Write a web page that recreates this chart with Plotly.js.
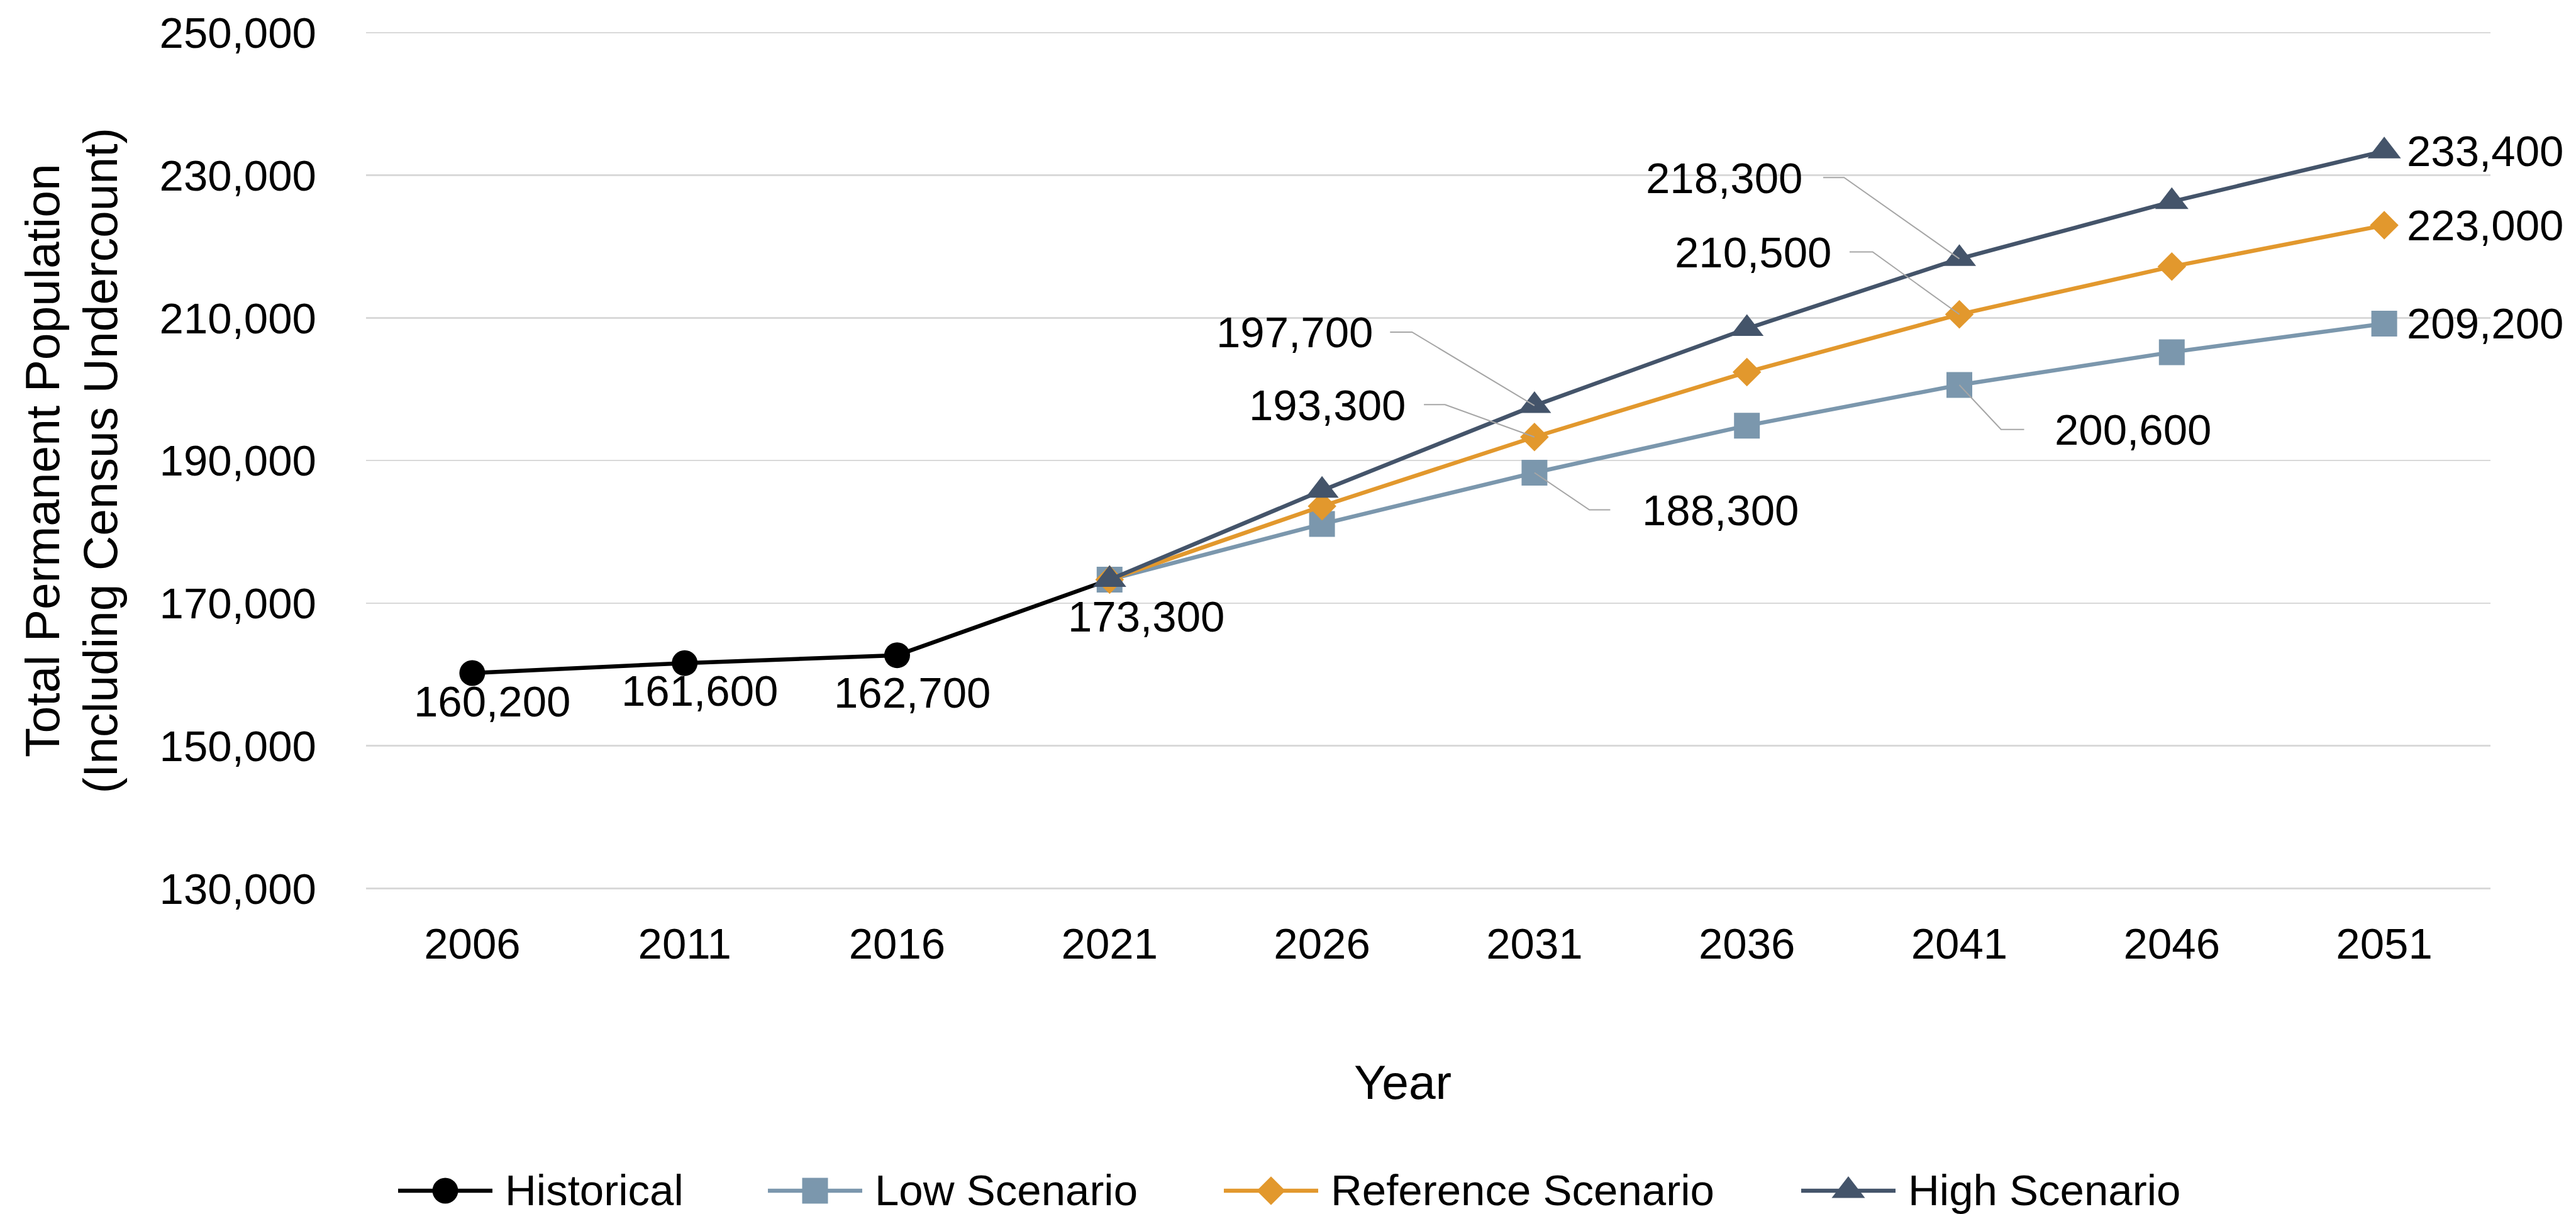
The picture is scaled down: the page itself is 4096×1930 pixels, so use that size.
<!DOCTYPE html>
<html>
<head>
<meta charset="utf-8">
<script src="https://cdn.plot.ly/plotly-3.0.1.min.js"></script>
<style>
  html, body { margin: 0; padding: 0; background: #ffffff; }
  #chart { width: 4096px; height: 1930px; }
</style>
</head>
<body>
<div id="chart"></div>
<script>
// ---- Data -------------------------------------------------------------
const years = [2006, 2011, 2016, 2021, 2026, 2031, 2036, 2041, 2046, 2051];
const historicalYears = [2006, 2011, 2016, 2021];
const historical = [160200, 161600, 162700, 173300];
const scenarioYears = [2021, 2026, 2031, 2036, 2041, 2046, 2051];
const lowScenario = [173300, 181100, 188300, 194900, 200600, 205200, 209200];
const referenceScenario = [173300, 183600, 193300, 202400, 210500, 217200, 223000];
const highScenario = [173300, 185800, 197700, 208500, 218300, 226300, 233400];
const yTicks = [130000, 150000, 170000, 190000, 210000, 230000, 250000];
const yMin = 130000, yMax = 250000;

// ---- Page geometry (px) -------------------------------------------------
const W = 4096, H = 1930;
const plotLeft = 582, plotRight = 3960, plotTop = 52.4, plotBottom = 1412.5;
// Pad the value axis by a couple of pixels so the end gridlines are kept
const edgePad = 2;
const pxPerUnit = (plotBottom - plotTop) / (yMax - yMin);
const rangePad = edgePad / pxPerUnit;
const areaTop = plotTop - edgePad;
const lowerZone = H - plotBottom - edgePad;        // space below the plot (x labels, title, legend)
const lowerFrac = lowerZone / (H - areaTop);

const FONT = '"Liberation Sans", Arial, sans-serif';
const TXT = 69;        // tick, data-label and legend text
const TITLE = 76.8;    // axis titles
const LINE_W = 6.5;

// ---- Series styling -------------------------------------------------------
const series = [
  { name: 'Historical',         x: historicalYears, y: historical,        color: '#000000', symbol: 'circle',      size: 41 },
  { name: 'Low Scenario',       x: scenarioYears,   y: lowScenario,       color: '#7B97AD', symbol: 'square',      size: 41 },
  { name: 'Reference Scenario', x: scenarioYears,   y: referenceScenario, color: '#E2982D', symbol: 'diamond',     size: 35 },
  { name: 'High Scenario',      x: scenarioYears,   y: highScenario,      color: '#44546A', symbol: 'triangle-up', size: 46 }
];

// Data labels: series index, year, text anchor and pixel offsets (y up);
// optional elbow leader line drawn from the point.
const labels = [
  { s: 0, year: 2006, anchor: 'center', dx: 31.4,  dy: -45.4 },
  { s: 0, year: 2011, anchor: 'center', dx: 23.6,  dy: -44.3 },
  { s: 0, year: 2016, anchor: 'center', dx: 24.4,  dy: -59.4 },
  { s: 0, year: 2021, anchor: 'center', dx: 58.5,  dy: -58.8 },
  { s: 3, year: 2031, anchor: 'right',  dx: -255,  dy: 116.5, leader: [[-194.7, 116.9], [-229.6, 116.9]] },
  { s: 2, year: 2031, anchor: 'right',  dx: -202.5, dy: 50.6, leader: [[-142.3, 51.5], [-175.8, 51.5]] },
  { s: 1, year: 2031, anchor: 'left',   dx: 169.4, dy: -59.8, leader: [[87.3, -59], [120.5, -59]] },
  { s: 3, year: 2041, anchor: 'right',  dx: -247.9, dy: 127.8, leader: [[-183.3, 129.1], [-216.5, 129.1]] },
  { s: 2, year: 2041, anchor: 'right',  dx: -201.7, dy: 98.4, leader: [[-137.9, 99.3], [-174.6, 99.3]] },
  { s: 1, year: 2041, anchor: 'left',   dx: 149.3, dy: -71.6, leader: [[66.3, -70.7], [103, -70.7]] },
  { s: 3, year: 2051, anchor: 'left',   dx: 34,    dy: 0 },
  { s: 2, year: 2051, anchor: 'left',   dx: 34,    dy: 0 },
  { s: 1, year: 2051, anchor: 'left',   dx: 34,    dy: 0 }
];

// Legend row below the plot: left edge of each sample line (px), row height above page bottom
const legendStarts = [633, 1221, 1946, 2864];
const legendLineLen = 150, legendTextGap = 168, legendRowY = 37;

// ---- Traces ---------------------------------------------------------------
const traces = series.map(s => ({
  type: 'scatter',
  mode: 'lines+markers',
  name: s.name,
  x: s.x,
  y: s.y,
  xaxis: 'x', yaxis: 'y',
  line: { color: s.color, width: LINE_W },
  marker: { color: s.color, symbol: s.symbol, size: s.size, opacity: 1, line: { width: 0 } },
  cliponaxis: false,
  showlegend: false,
  hoverinfo: 'skip'
}));

// Legend samples on a hidden pixel-unit axis pair
series.forEach((s, i) => {
  const x0 = legendStarts[i];
  traces.push({
    type: 'scatter',
    mode: 'lines+markers',
    x: [x0, x0 + legendLineLen / 2, x0 + legendLineLen],
    y: [legendRowY, legendRowY, legendRowY],
    xaxis: 'x2', yaxis: 'y2',
    line: { color: s.color, width: LINE_W },
    marker: { color: s.color, symbol: s.symbol, size: [0, s.size, 0], opacity: 1, line: { width: 0 } },
    cliponaxis: false,
    showlegend: false,
    hoverinfo: 'skip'
  });
});

// ---- Annotations & leader lines -----------------------------------------
const fmt = v => v.toLocaleString('en-US');
const annotations = [];
const shapes = [];

labels.forEach(l => {
  const s = series[l.s];
  const v = s.y[s.x.indexOf(l.year)];
  annotations.push({
    x: l.year, y: v, xref: 'x', yref: 'y',
    text: fmt(v), showarrow: false,
    xanchor: l.anchor, yanchor: 'middle',
    xshift: l.dx, yshift: l.dy,
    font: { family: FONT, size: TXT, color: '#000000' }
  });
  if (l.leader) {
    const [a, b] = l.leader;
    shapes.push({
      type: 'path', xref: 'x', yref: 'y',
      xsizemode: 'pixel', ysizemode: 'pixel',
      xanchor: l.year, yanchor: v,
      path: `M0,0 L${a[0]},${a[1]} L${b[0]},${b[1]}`,
      line: { color: '#A6A6A6', width: 2 },
      layer: 'above'
    });
  }
});

series.forEach((s, i) => {
  annotations.push({
    x: legendStarts[i] + legendTextGap, y: legendRowY, xref: 'x2', yref: 'y2',
    text: s.name, showarrow: false, xanchor: 'left', yanchor: 'middle',
    font: { family: FONT, size: TXT, color: '#000000' }
  });
});

// Axis titles
annotations.push({
  x: 2230.6, y: H - 1720.2, xref: 'x2', yref: 'y2',
  text: 'Year', showarrow: false, xanchor: 'center', yanchor: 'middle',
  font: { family: FONT, size: TITLE, color: '#000000' }
});
const yTitleLines = ['Total Permanent Population', '(Including Census Undercount)'];
const yTitleX = [67.7, 159.3];
yTitleLines.forEach((t, i) => {
  annotations.push({
    x: 0, xref: 'paper', xshift: yTitleX[i] - plotLeft,
    y: (yMin + yMax) / 2, yref: 'y',
    text: t, textangle: -90, showarrow: false,
    xanchor: 'center', yanchor: 'middle',
    font: { family: FONT, size: TITLE, color: '#000000' }
  });
});

// ---- Layout ---------------------------------------------------------------
const layout = {
  width: W, height: H,
  margin: { l: plotLeft, r: W - plotRight, t: areaTop, b: 0, pad: 0 },
  paper_bgcolor: '#ffffff',
  plot_bgcolor: '#ffffff',
  showlegend: false,
  font: { family: FONT, size: TXT, color: '#000000' },
  xaxis: {
    domain: [0, 1], anchor: 'y',
    type: 'linear', range: [2003.5, 2053.5],
    tickvals: years, ticktext: years.map(String),
    showgrid: false, zeroline: false, showline: false, ticks: '',
    ticklabelstandoff: 40,
    tickfont: { family: FONT, size: TXT, color: '#000000' },
    fixedrange: true
  },
  yaxis: {
    domain: [lowerFrac, 1], anchor: 'x',
    range: [yMin - rangePad, yMax + rangePad],
    tickvals: yTicks, tickformat: ',d',
    showgrid: true, gridcolor: '#D9D9D9', gridwidth: 2.5,
    zeroline: false, showline: false, ticks: '',
    ticklabelstandoff: 78,
    tickfont: { family: FONT, size: TXT, color: '#000000' },
    fixedrange: true
  },
  xaxis2: {
    domain: [0, 1], anchor: 'y2',
    range: [plotLeft, plotRight], visible: false, fixedrange: true
  },
  yaxis2: {
    domain: [0, lowerFrac], anchor: 'x2',
    range: [0, lowerZone], visible: false, fixedrange: true
  },
  annotations: annotations,
  shapes: shapes
};

Plotly.newPlot('chart', traces, layout, { displayModeBar: false, staticPlot: true });
</script>
</body>
</html>
